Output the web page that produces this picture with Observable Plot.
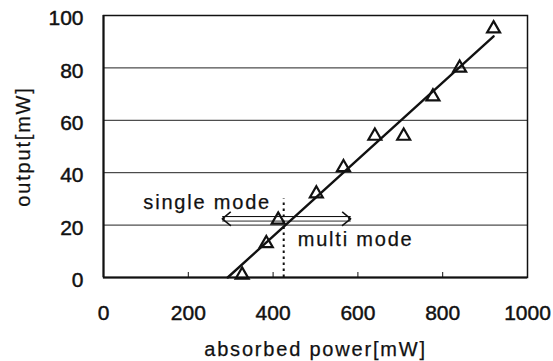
<!DOCTYPE html>
<html><head><meta charset="utf-8">
<script src="https://cdn.jsdelivr.net/npm/d3@7"></script>
<script src="https://cdn.jsdelivr.net/npm/@observablehq/plot@0.6"></script>
<style>
body{margin:0;background:#fff}
#chart{width:553px;height:361px}
#chart g[aria-label="text"] text{letter-spacing:1.8px;stroke:#111;stroke-width:0.25px}
#chart g[aria-label$="tick label"] text{stroke:#111;stroke-width:0.45px}
</style>
</head><body><div id="chart"></div>
<script>
// measured points: absorbed power [mW] vs output [mW]
const absorbedPower = [327, 384, 412, 502, 566, 640, 708, 777, 840, 920];
const outputPower   = [1, 13, 22, 32, 42, 54, 54, 69, 80, 95];
const xTicks = [0, 200, 400, 600, 800, 1000];
const yTicks = [0, 20, 40, 60, 80, 100];
const gridY = [20, 40, 60, 80];
// single/multi mode boundary annotation
const thresholdPower = 425;
const thresholdTop = 30;
const arrowLevel = 22.4;
const arrowEnds = [280, 583];
const modeLabels = ["single mode", "multi mode"];
const modeLabelX = [94, 458];
const modeLabelY = [28.6, 14.6];
const xLabel = "absorbed power[mW]";
const yLabel = "output[mW]";

const points = absorbedPower.map((x, i) => ({x, y: outputPower[i]}));
// least-squares fit line, from the x-intercept to the last point
const mx = d3.mean(absorbedPower), my = d3.mean(outputPower);
const slope = d3.sum(points, d => (d.x - mx) * (d.y - my)) / d3.sum(points, d => (d.x - mx) ** 2);
const icpt = my - slope * mx;
const xEnd = d3.max(absorbedPower);
const fit = [{x: -icpt / slope, y: 0}, {x: xEnd, y: slope * xEnd + icpt}];
const arrows = arrowEnds.map(e => ({x1: thresholdPower, x2: e, y: arrowLevel}));
const labels = modeLabels.map((t, i) => ({t, x: modeLabelX[i], y: modeLabelY[i]}));

const ink = "#111";
const arrowCh = {x1: "x1", x2: "x2", y1: "y", y2: "y"};
const chart = Plot.plot({
  width: 553, height: 361,
  marginLeft: 103, marginRight: 26, marginTop: 15, marginBottom: 84,
  style: {fontFamily: "'Liberation Sans', Arial, sans-serif", color: ink, background: "#fff"},
  x: {domain: [0, 1000]},
  y: {domain: [0, 100]},
  marks: [
    Plot.ruleY(gridY, {stroke: "#222", strokeWidth: 1}),
    Plot.tickX(xTicks, {x: d => d, insetTop: 257, stroke: ink, strokeWidth: 1}),
    Plot.frame({stroke: ink, strokeWidth: 1.5}),
    Plot.ruleX([0], {stroke: ink, strokeWidth: 2}),
    Plot.ruleY([0], {stroke: ink, strokeWidth: 2}),
    Plot.axisX(xTicks, {tickSize: 0, tickPadding: 28, fontSize: 21, label: null, tickFormat: d => String(d)}),
    Plot.axisY(yTicks, {tickSize: 0, tickPadding: 20, fontSize: 21, label: null, dy: 3, tickFormat: d => String(d)}),
    Plot.ruleX([thresholdPower], {y1: 0, y2: thresholdTop, stroke: ink, strokeWidth: 2, strokeDasharray: "2.5,3.5"}),
    // double-lined arrows with open heads
    Plot.arrow(arrows, {...arrowCh, stroke: ink, strokeWidth: 1.5, headLength: 10.5, headAngle: 78}),
    Plot.link(arrows, {...arrowCh, dy: -2.2, stroke: ink, strokeWidth: 1.2}),
    Plot.link(arrows, {...arrowCh, dy: 2.2, stroke: ink, strokeWidth: 1.2}),
    Plot.arrow(arrows, {...arrowCh, stroke: "#fff", strokeWidth: 3, headLength: 0, insetEnd: 4, insetStart: 1}),
    Plot.line(fit, {x: "x", y: "y", stroke: ink, strokeWidth: 2.4}),
    Plot.dot(points, {x: "x", y: "y", symbol: "triangle", r: 4.8, stroke: ink, strokeWidth: 2.2, fill: "none"}),
    Plot.text(labels, {x: "x", y: "y", text: "t", textAnchor: "start", fontSize: 20, fill: ink}),
    Plot.text([xLabel], {frameAnchor: "bottom", textAnchor: "middle", dy: 78, fontSize: 20, fill: ink}),
    Plot.text([yLabel], {frameAnchor: "left", textAnchor: "middle", dx: -80, rotate: -90, fontSize: 20, fill: ink})
  ]
});
document.getElementById("chart").appendChild(chart);
</script>
</body></html>
